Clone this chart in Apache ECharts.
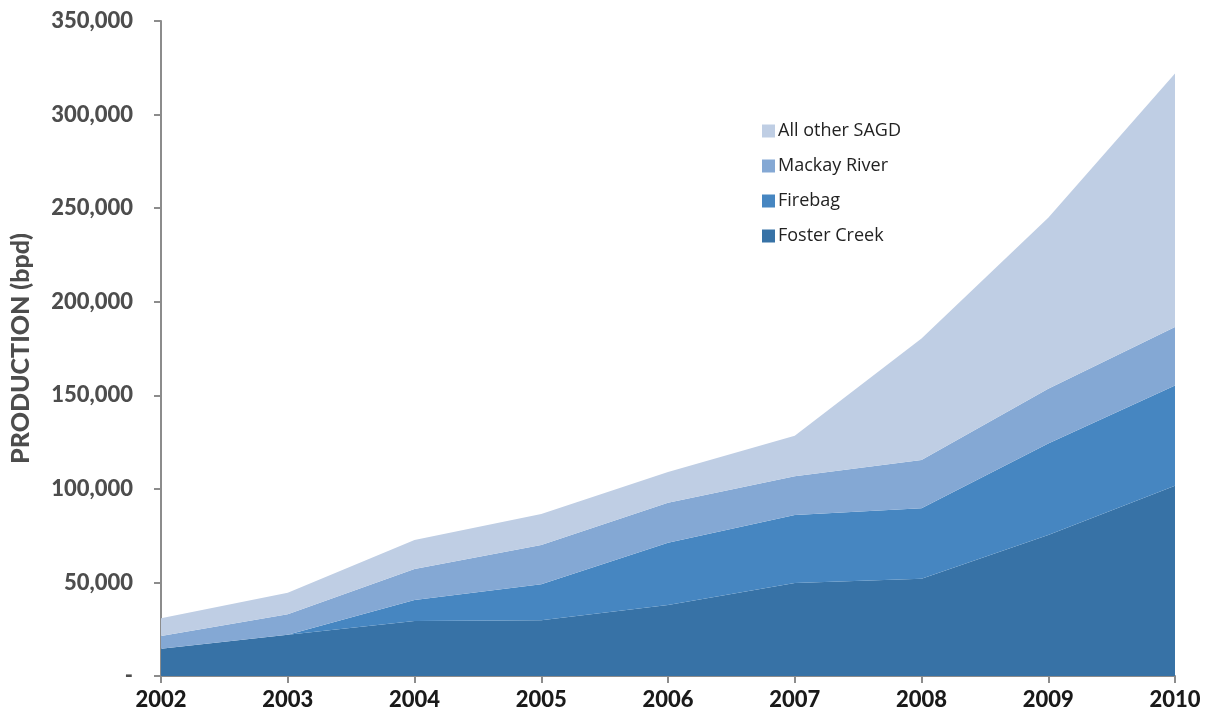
<!DOCTYPE html>
<html>
<head>
<meta charset="utf-8">
<script src="https://cdn.jsdelivr.net/npm/echarts@6/dist/echarts.min.js"></script>
<style>
  html, body { margin: 0; padding: 0; background: #fff; }
  #chart { width: 1211px; height: 719px; }
</style>
</head>
<body>
<div id="chart"></div>
<script>
// SAGD production by project, barrels per day
const years = ['2002', '2003', '2004', '2005', '2006', '2007', '2008', '2009', '2010'];
const fosterCreek = [14600, 22000, 29400, 29800, 37900, 49700, 52000, 75400, 101600];
const firebag     = [0, 0, 11200, 19200, 33300, 36300, 37600, 48800, 53600];
const mackayRiver = [6800, 11000, 16600, 21000, 21400, 20700, 25800, 29300, 31300];
const allOther    = [9400, 11500, 15500, 16600, 16400, 21700, 64900, 91300, 135500];

const seriesNames = ['Foster Creek', 'Firebag', 'Mackay River', 'All other SAGD'];
const seriesData = [fosterCreek, firebag, mackayRiver, allOther];
const colors = ['#3772a6', '#4686c1', '#84a8d4', '#bfcee4'];

const chart = echarts.init(document.getElementById('chart'));

const fmt = v => v === 0 ? '-' : v.toLocaleString('en-US');

chart.setOption({
  animation: false,
  backgroundColor: '#ffffff',
  grid: { left: 161, right: 36, top: 21, bottom: 43, containLabel: false, outerBoundsMode: 'none' },
  legend: {
    data: seriesNames.slice().reverse(),
    orient: 'vertical',
    left: 757,
    top: 117,
    itemWidth: 13,
    itemHeight: 13,
    itemGap: 17,
    icon: 'rect',
    textStyle: { fontFamily: 'Open Sans', fontSize: 18, color: '#222222', padding: [0, 0, 0, -2] }
  },
  xAxis: {
    type: 'category',
    data: years,
    boundaryGap: false,
    axisLine: { lineStyle: { color: '#8c8c8c', width: 2 } },
    axisTick: { show: true, length: 7, lineStyle: { color: '#8c8c8c', width: 2 } },
    axisLabel: { fontFamily: 'Lato', fontWeight: 900, fontSize: 22, color: '#1a1a1a', margin: 13 }
  },
  yAxis: {
    type: 'value',
    min: 0,
    max: 350000,
    interval: 50000,
    name: 'PRODUCTION (bpd)',
    nameLocation: 'middle',
    nameRotate: 90,
    nameGap: 128,
    nameTextStyle: { fontFamily: 'Lato', fontWeight: 900, fontSize: 25, color: '#4d4d4d' },
    axisLine: { show: true, lineStyle: { color: '#8c8c8c', width: 2 } },
    axisTick: { show: true, length: 7, lineStyle: { color: '#8c8c8c', width: 2 } },
    splitLine: { show: false },
    axisLabel: {
      fontFamily: 'Lato', fontWeight: 900, fontSize: 22, color: '#4d4d4d', margin: 28,
      formatter: fmt
    }
  },
  series: seriesNames.map((name, i) => ({
    name: name,
    type: 'line',
    stack: 'total',
    data: seriesData[i],
    showSymbol: false,
    symbol: 'none',
    lineStyle: { width: 0 },
    itemStyle: { color: colors[i] },
    areaStyle: { color: colors[i], opacity: 1 },
    z: 2
  }))
});
</script>
</body>
</html>
